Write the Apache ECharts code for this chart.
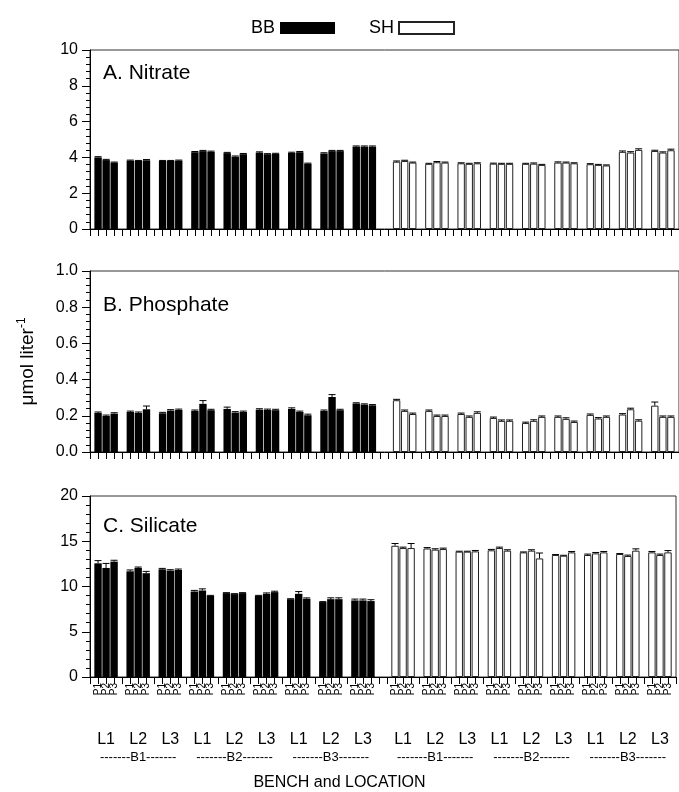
<!DOCTYPE html>
<html>
<head>
<meta charset="utf-8">
<script src="https://cdn.jsdelivr.net/npm/echarts@6/dist/echarts.min.js"></script>
<style>
  html, body { margin: 0; padding: 0; background: #fff; }
  #chart-container { width: 679px; height: 792px; }
</style>
</head>
<body>
<div id="chart-container"></div>
<script>
// values, 27 per site: B1 L1 P1..P3, B1 L2 P1..P3, ... B3 L3 P3
const nitrateBB = [4.0, 3.85, 3.71, 3.82, 3.8, 3.84, 3.8, 3.8, 3.82, 4.29, 4.35, 4.31, 4.24, 4.04, 4.18, 4.27, 4.18, 4.2, 4.25, 4.29, 3.65, 4.22, 4.35, 4.35, 4.6, 4.6, 4.6];
const nitrateSH = [3.76, 3.8, 3.71, 3.64, 3.73, 3.71, 3.67, 3.64, 3.67, 3.65, 3.64, 3.64, 3.64, 3.65, 3.58, 3.71, 3.71, 3.67, 3.62, 3.58, 3.55, 4.31, 4.27, 4.42, 4.36, 4.27, 4.4];
const nitrateErrBB = [0.04, 0.04, 0.03, 0.03, 0.03, 0.04, 0.03, 0.03, 0.03, 0.04, 0.04, 0.04, 0.04, 0.04, 0.04, 0.04, 0.03, 0.03, 0.04, 0.04, 0.03, 0.04, 0.04, 0.04, 0.04, 0.04, 0.04];
const nitrateErrSH = [0.04, 0.04, 0.03, 0.03, 0.04, 0.03, 0.03, 0.03, 0.03, 0.03, 0.03, 0.03, 0.03, 0.04, 0.03, 0.04, 0.03, 0.03, 0.03, 0.03, 0.03, 0.05, 0.05, 0.06, 0.04, 0.04, 0.06];

const phosphateBB = [0.216, 0.199, 0.212, 0.221, 0.216, 0.236, 0.214, 0.229, 0.232, 0.227, 0.266, 0.231, 0.238, 0.218, 0.221, 0.234, 0.232, 0.231, 0.238, 0.221, 0.203, 0.227, 0.304, 0.231, 0.268, 0.262, 0.258];
const phosphateSH = [0.286, 0.227, 0.21, 0.227, 0.199, 0.199, 0.21, 0.194, 0.216, 0.188, 0.172, 0.172, 0.16, 0.172, 0.194, 0.194, 0.183, 0.166, 0.205, 0.185, 0.194, 0.207, 0.236, 0.173, 0.256, 0.194, 0.194];
const phosphateErrBB = [0.005, 0.005, 0.005, 0.005, 0.005, 0.018, 0.005, 0.005, 0.005, 0.005, 0.018, 0.005, 0.01, 0.005, 0.005, 0.005, 0.005, 0.005, 0.006, 0.005, 0.006, 0.005, 0.013, 0.005, 0.004, 0.004, 0.004];
const phosphateErrSH = [0.005, 0.005, 0.005, 0.005, 0.005, 0.005, 0.005, 0.005, 0.006, 0.005, 0.005, 0.005, 0.005, 0.006, 0.005, 0.005, 0.006, 0.005, 0.005, 0.005, 0.005, 0.005, 0.006, 0.005, 0.02, 0.005, 0.005];

const silicateBB = [12.56, 12.05, 12.75, 11.68, 12.05, 11.47, 11.9, 11.76, 11.83, 9.45, 9.56, 8.97, 9.27, 9.16, 9.27, 8.97, 9.19, 9.38, 8.6, 9.19, 8.64, 8.28, 8.6, 8.6, 8.46, 8.46, 8.39];
const silicateSH = [14.5, 14.25, 14.25, 14.2, 14.07, 14.14, 13.85, 13.85, 13.88, 14.0, 14.25, 13.96, 13.77, 13.96, 13.1, 13.48, 13.4, 13.77, 13.48, 13.66, 13.77, 13.59, 13.37, 13.96, 13.77, 13.48, 13.77];
const silicateErrBB = [0.3, 0.5, 0.15, 0.15, 0.1, 0.2, 0.1, 0.1, 0.1, 0.12, 0.18, 0.05, 0.05, 0.05, 0.05, 0.05, 0.1, 0.1, 0.05, 0.25, 0.1, 0.05, 0.15, 0.15, 0.15, 0.15, 0.15];
const silicateErrSH = [0.25, 0.1, 0.5, 0.1, 0.1, 0.1, 0.05, 0.05, 0.1, 0.1, 0.1, 0.1, 0.05, 0.1, 0.6, 0.05, 0.05, 0.1, 0.1, 0.1, 0.1, 0.05, 0.1, 0.2, 0.1, 0.1, 0.2];

const positions = ['P1', 'P2', 'P3'];
const locations = ['L1', 'L2', 'L3'];
const benches = ['-------B1-------', '-------B2-------', '-------B3-------'];
const panelTitles = ['A. Nitrate', 'B. Phosphate', 'C. Silicate'];

// slot layout on the category axis: empty, then 9 groups of 3 bars + gap, extra gap, 9 more groups
const nSlots = 74;
const slotOf = (site, k) => (site === 0 ? 1 : 38) + 4 * Math.floor(k / 3) + (k % 3);

const slots = (vals, site) => {
  const out = new Array(nSlots).fill('-');
  vals.forEach((v, k) => { out[slotOf(site, k)] = v; });
  return out;
};
const errData = (vals, errs, site) => vals.map((v, k) => [slotOf(site, k), v, errs[k]]);

const cats = Array.from({ length: nSlots }, (_, i) => String(i));
const pLabels = new Array(nSlots).fill('');
const lLabels = new Array(nSlots).fill('');
const bLabels = new Array(nSlots).fill('');
[0, 1].forEach(site => {
  for (let k = 0; k < 27; k++) {
    const s = slotOf(site, k);
    pLabels[s] = positions[k % 3];
    if (k % 3 === 1) lLabels[s] = locations[Math.floor(k / 3) % 3];
    if (k % 9 === 4) bLabels[s] = benches[Math.floor(k / 9)];
  }
});

const font = 'Liberation Sans, Arial, sans-serif';
const tops = [50, 271, 496];
const heights = [179, 181, 181];

const errorSeries = (data, xi, yi) => ({
  type: 'custom',
  xAxisIndex: xi,
  yAxisIndex: yi,
  silent: true,
  z: 5,
  data: data,
  renderItem: (params, api) => {
    const x = api.value(0);
    const lo = api.coord([x, api.value(1)]);
    const hi = api.coord([x, api.value(1) + api.value(2)]);
    const st = { stroke: '#000', lineWidth: 1 };
    return {
      type: 'group',
      children: [
        { type: 'line', shape: { x1: lo[0], y1: lo[1], x2: hi[0], y2: hi[1] }, style: st },
        { type: 'line', shape: { x1: hi[0] - 3.5, y1: hi[1], x2: hi[0] + 3.5, y2: hi[1] }, style: st }
      ]
    };
  }
});

const start = () => {
  const chartDom = document.getElementById('chart-container');
  const myChart = echarts.init(chartDom, null, { renderer: 'canvas' });

  const grids = tops.map((t, i) => ({
    left: 90, top: t, width: 591, height: heights[i],
    show: true, borderColor: '#333', borderWidth: 1
  }));

  const xAxes = [];
  [0, 1, 2].forEach(i => {
    xAxes.push({
      type: 'category', gridIndex: i, data: cats, boundaryGap: false,
      axisLine: { lineStyle: { color: '#000', width: 1 } },
      axisTick: { interval: 0, length: 7, lineStyle: { color: '#000' } },
      axisLabel: i === 2 ? {
        interval: 0, rotate: 90, fontSize: 10, margin: 6, color: '#000', fontFamily: font,
        formatter: (v, idx) => pLabels[idx]
      } : { show: false }
    });
  });
  // location and bench label rows under the bottom panel
  xAxes.push({
    type: 'category', gridIndex: 2, data: lLabels, boundaryGap: false, position: 'bottom', offset: 47,
    axisLine: { show: false }, axisTick: { show: false },
    axisLabel: { interval: 0, fontSize: 16, color: '#000', fontFamily: font }
  });
  xAxes.push({
    type: 'category', gridIndex: 2, data: bLabels, boundaryGap: false, position: 'bottom', offset: 66,
    axisLine: { show: false }, axisTick: { show: false },
    axisLabel: { interval: 0, fontSize: 13, color: '#000', fontFamily: font }
  });

  const yCfg = [
    { max: 10, interval: 2, fmt: v => String(v) },
    { max: 1, interval: 0.2, fmt: v => v.toFixed(1) },
    { max: 20, interval: 5, fmt: v => String(v) }
  ];
  const yAxes = yCfg.map((c, i) => ({
    type: 'value', gridIndex: i, min: 0, max: c.max, interval: c.interval,
    splitLine: { show: false },
    axisLine: { show: true, lineStyle: { color: '#000' } },
    axisTick: { show: true, length: 8, lineStyle: { color: '#000' } },
    minorTick: { show: true, splitNumber: 5, length: 4, lineStyle: { color: '#000' } },
    axisLabel: { fontSize: 16, color: '#000', fontFamily: font, margin: 12, formatter: c.fmt },
    name: i === 1 ? 'μmol liter{sup|-1}' : '',
    nameLocation: 'middle', nameGap: 50, nameRotate: 90,
    nameTextStyle: {
      fontSize: 19, color: '#000', fontFamily: font,
      rich: { sup: { fontSize: 12, color: '#000', fontFamily: font, padding: [0, 0, 12, 0] } }
    }
  }));

  const sets = [
    [nitrateBB, nitrateSH, nitrateErrBB, nitrateErrSH],
    [phosphateBB, phosphateSH, phosphateErrBB, phosphateErrSH],
    [silicateBB, silicateSH, silicateErrBB, silicateErrSH]
  ];
  const series = [];
  sets.forEach((s, i) => {
    series.push({
      name: 'BB', type: 'bar', xAxisIndex: i, yAxisIndex: i, data: slots(s[0], 0),
      barWidth: 7.4, barGap: '-100%', itemStyle: { color: '#000' }
    });
    series.push({
      name: 'SH', type: 'bar', xAxisIndex: i, yAxisIndex: i, data: slots(s[1], 1),
      barWidth: 7.4, barGap: '-100%', itemStyle: { color: '#fff', borderColor: '#222', borderWidth: 1 }
    });
    series.push(errorSeries(errData(s[0], s[2], 0), i, i));
    series.push(errorSeries(errData(s[1], s[3], 1), i, i));
  });

  const titleY = [74, 306, 527];
  const option = {
    animation: false,
    textStyle: { fontFamily: font },
    legend: {
      data: ['BB', 'SH'], top: 14, left: 246, align: 'right',
      itemWidth: 55, itemHeight: 12, itemGap: 34, icon: 'rect',
      textStyle: { fontSize: 18, color: '#000', fontFamily: font }
    },
    grid: grids,
    xAxis: xAxes,
    yAxis: yAxes,
    series: series,
    graphic: panelTitles.map((t, i) => ({
      type: 'text', left: 103, top: titleY[i] - 11,
      style: { text: t, fontSize: 21, fill: '#000', fontFamily: font }
    })).concat([{
      type: 'text', left: 'center', top: 775,
      style: { text: 'BENCH and LOCATION', fontSize: 16, fill: '#000', fontFamily: font }
    }])
  };
  myChart.setOption(option);
};

start();
</script>
</body>
</html>
